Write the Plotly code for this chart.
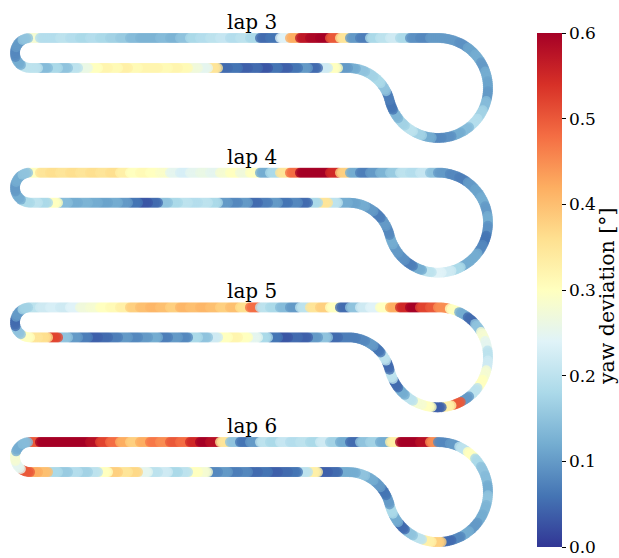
import math
import plotly.graph_objects as go

# ---------------- data: yaw deviation [deg] along the track, per lap ----------------
laps = ["lap 3", "lap 4", "lap 5", "lap 6"]

# top straight (left -> right)
top_lap3 = [0.28, 0.19, 0.19, 0.2, 0.19, 0.18, 0.19, 0.18, 0.17, 0.16, 0.14, 0.13, 0.13, 0.14,
            0.13, 0.15, 0.18, 0.19, 0.2, 0.21, 0.19, 0.2, 0.18, 0.05, 0.06, 0.24, 0.42, 0.57,
            0.59, 0.6, 0.5, 0.35, 0.1, 0.07, 0.18, 0.2, 0.22, 0.18, 0.09, 0.08, 0.1]
top_lap4 = [0.3, 0.35, 0.36, 0.35, 0.36, 0.35, 0.36, 0.35, 0.36, 0.33, 0.3, 0.31, 0.3, 0.29,
            0.25, 0.23, 0.25, 0.26, 0.25, 0.28, 0.3, 0.27, 0.3, 0.12, 0.18, 0.35, 0.48, 0.6,
            0.6, 0.6, 0.55, 0.38, 0.12, 0.07, 0.1, 0.13, 0.16, 0.2, 0.19, 0.21, 0.15]
top_lap5 = [0.2, 0.22, 0.23, 0.22, 0.24, 0.27, 0.28, 0.3, 0.31, 0.33, 0.38, 0.4, 0.41, 0.4,
            0.38, 0.41, 0.4, 0.41, 0.4, 0.38, 0.4, 0.36, 0.48, 0.2, 0.18, 0.14, 0.1, 0.2,
            0.35, 0.38, 0.3, 0.05, 0.15, 0.22, 0.24, 0.3, 0.42, 0.55, 0.6, 0.52, 0.5]
top_lap6 = [0.5, 0.6, 0.6, 0.6, 0.6, 0.6, 0.58, 0.52, 0.48, 0.42, 0.38, 0.42, 0.47, 0.45,
            0.5, 0.48, 0.55, 0.6, 0.58, 0.35, 0.15, 0.06, 0.1, 0.2, 0.18, 0.21, 0.19, 0.2,
            0.18, 0.22, 0.17, 0.12, 0.05, 0.15, 0.17, 0.12, 0.33, 0.6, 0.6, 0.58, 0.45]

# big loop (from top, clockwise)
loop_lap3 = [0.1, 0.1, 0.09, 0.11, 0.12, 0.1, 0.12, 0.11, 0.1, 0.14, 0.17, 0.19, 0.14, 0.12,
             0.09, 0.08, 0.12, 0.17, 0.2, 0.17, 0.13, 0.06]
loop_lap4 = [0.1, 0.08, 0.07, 0.1, 0.11, 0.12, 0.1, 0.12, 0.09, 0.06, 0.08, 0.12, 0.12, 0.18,
             0.22, 0.24, 0.2, 0.12, 0.07, 0.09, 0.1, 0.12]
loop_lap5 = [0.45, 0.3, 0.12, 0.05, 0.15, 0.28, 0.25, 0.2, 0.22, 0.28, 0.3, 0.2, 0.1, 0.5,
             0.33, 0.04, 0.3, 0.28, 0.2, 0.12, 0.05, 0.2]
loop_lap6 = [0.08, 0.1, 0.2, 0.3, 0.18, 0.15, 0.14, 0.12, 0.15, 0.13, 0.12, 0.1, 0.12, 0.08,
             0.05, 0.38, 0.33, 0.2, 0.15, 0.05, 0.12, 0.18]

# S-bend (loop -> bottom straight)
bend_lap3 = [0.07, 0.15, 0.18, 0.17, 0.15, 0.12]
bend_lap4 = [0.08, 0.1, 0.07, 0.1, 0.12, 0.11]
bend_lap5 = [0.05, 0.2, 0.06, 0.1, 0.08, 0.07]
bend_lap6 = [0.1, 0.06, 0.1, 0.12, 0.15, 0.12]

# bottom straight (right -> left)
bot_lap3 = [0.1, 0.3, 0.22, 0.05, 0.1, 0.06, 0.04, 0.06, 0.03, 0.05, 0.04, 0.06, 0.05, 0.35,
            0.25, 0.27, 0.31, 0.32, 0.31, 0.32, 0.32, 0.31, 0.33, 0.31, 0.32, 0.3, 0.26, 0.2,
            0.15, 0.18, 0.14, 0.2]
bot_lap4 = [0.12, 0.2, 0.35, 0.18, 0.05, 0.08, 0.06, 0.1, 0.07, 0.05, 0.1, 0.08, 0.1, 0.18,
            0.2, 0.19, 0.2, 0.18, 0.15, 0.05, 0.03, 0.06, 0.1, 0.12, 0.11, 0.12, 0.13, 0.12,
            0.14, 0.3, 0.18, 0.2]
bot_lap5 = [0.07, 0.05, 0.15, 0.1, 0.04, 0.05, 0.03, 0.06, 0.18, 0.25, 0.3, 0.32, 0.3, 0.22,
            0.15, 0.18, 0.08, 0.1, 0.07, 0.12, 0.1, 0.08, 0.1, 0.07, 0.05, 0.04, 0.07, 0.1,
            0.15, 0.52, 0.36, 0.35]
bot_lap6 = [0.12, 0.05, 0.04, 0.33, 0.2, 0.06, 0.05, 0.04, 0.06, 0.05, 0.08, 0.07, 0.1, 0.08,
            0.28, 0.3, 0.2, 0.18, 0.22, 0.2, 0.25, 0.37, 0.35, 0.38, 0.3, 0.2, 0.17, 0.19,
            0.16, 0.18, 0.4, 0.42]

# left hairpin (bottom -> top)
cap_lap3 = [0.2, 0.12, 0.08, 0.1, 0.15]
cap_lap4 = [0.18, 0.12, 0.1, 0.12, 0.15]
cap_lap5 = [0.3, 0.15, 0.05, 0.1, 0.17]
cap_lap6 = [0.5, 0.25, 0.28, 0.12, 0.14]

colorbar_ticks = [0.0, 0.1, 0.2, 0.3, 0.4, 0.5, 0.6]
colorbar_title = "yaw deviation [°]"

# ---------------- track geometry (drawing units) ----------------
X_LEFT, X_RIGHT = 30.0, 438.0
GAP = 30.0          # distance between the two straights
R_LOOP = 50.0
X_BEND = 348.0
FIRST_TOP = 38.0
LAP_STEP = 134.7
STEP = 2.0          # marker spacing along the path

# solve |C1-C2| = R_LOOP + r  with C1=(X_RIGHT, top+R_LOOP), C2=(X_BEND, top+GAP+r)
dx = X_RIGHT - X_BEND
a = GAP - R_LOOP
R_BEND = (dx ** 2 + a ** 2 - R_LOOP ** 2) / (2 * R_LOOP - 2 * a)


def segment_points(pts_fn, length, values):
    n = max(int(math.ceil(length / STEP)), 1)
    xs, ys, cs = [], [], []
    for i in range(n):
        t = i / n
        x, y = pts_fn(t)
        xs.append(x)
        ys.append(y)
        cs.append(values[min(int(t * len(values)), len(values) - 1)])
    return xs, ys, cs


def lap_track(top, top_v, loop_v, bend_v, bot_v, cap_v):
    xs, ys, cs = [], [], []
    c1 = (X_RIGHT, top + R_LOOP)
    c2 = (X_BEND, top + GAP + R_BEND)
    th_t = math.atan2(c2[1] - c1[1], c2[0] - c1[0])
    th0 = -math.pi / 2
    ph0 = th_t - math.pi
    ph1 = -math.pi / 2
    cap_c = (X_LEFT, top + GAP / 2)
    rc = GAP / 2
    parts = [
        (lambda t: (X_LEFT + t * (X_RIGHT - X_LEFT), top), X_RIGHT - X_LEFT, top_v),
        (lambda t: (c1[0] + R_LOOP * math.cos(th0 + t * (th_t - th0)),
                    c1[1] + R_LOOP * math.sin(th0 + t * (th_t - th0))), R_LOOP * (th_t - th0), loop_v),
        (lambda t: (c2[0] + R_BEND * math.cos(ph0 + t * (ph1 - ph0)),
                    c2[1] + R_BEND * math.sin(ph0 + t * (ph1 - ph0))), R_BEND * abs(ph1 - ph0), bend_v),
        (lambda t: (X_BEND - t * (X_BEND - X_LEFT), top + GAP), X_BEND - X_LEFT, bot_v),
        (lambda t: (cap_c[0] + rc * math.cos(math.pi / 2 + t * math.pi),
                    cap_c[1] + rc * math.sin(math.pi / 2 + t * math.pi)), rc * math.pi, cap_v),
    ]
    for fn, L, v in parts:
        x, y, c = segment_points(fn, L, v)
        xs += x
        ys += y
        cs += c
    return xs, ys, cs


lap_data = [
    (top_lap3, loop_lap3, bend_lap3, bot_lap3, cap_lap3),
    (top_lap4, loop_lap4, bend_lap4, bot_lap4, cap_lap4),
    (top_lap5, loop_lap5, bend_lap5, bot_lap5, cap_lap5),
    (top_lap6, loop_lap6, bend_lap6, bot_lap6, cap_lap6),
]

SERIF = "DejaVu Serif"
W, H = 619, 558
fig = go.Figure()
annotations = []
for k, (name, d) in enumerate(zip(laps, lap_data)):
    top = FIRST_TOP + k * LAP_STEP
    xs, ys, cs = lap_track(top, *d)
    fig.add_trace(go.Scatter(
        x=xs, y=ys, mode="markers", name=name, hoverinfo="skip",
        marker=dict(size=10, color=cs, colorscale="RdYlBu", reversescale=True,
                    cmin=0.0, cmax=0.6, opacity=0.8, line=dict(width=0),
                    showscale=(k == 0),
                    colorbar=dict(
                        x=537 / W, xanchor="left", xpad=0,
                        y=1 - 33 / H, yanchor="top", ypad=0,
                        len=514, lenmode="pixels", thickness=25,
                        outlinewidth=0,
                        tickvals=colorbar_ticks, ticktext=[f"{v:.1f}" for v in colorbar_ticks],
                        ticks="outside", ticklen=4, tickwidth=1, tickcolor="black",
                        tickfont=dict(family=SERIF, size=17, color="black"),
                    )),
        showlegend=False,
    ))
    annotations.append(dict(x=(X_LEFT + X_RIGHT) / 2 + 18, y=top - 16, text=name, showarrow=False,
                            xref="x", yref="y", font=dict(family=SERIF, size=20, color="black")))

# colorbar label (rotated, right of the tick labels)
annotations.append(dict(x=607 / W, y=1 - 296 / H, xref="paper", yref="paper", text=colorbar_title,
                        textangle=-90, showarrow=False, xanchor="center", yanchor="middle",
                        font=dict(family=SERIF, size=20.5, color="black")))

fig.update_layout(
    width=W, height=H,
    margin=dict(l=0, r=0, t=0, b=0, autoexpand=False),
    paper_bgcolor="white", plot_bgcolor="white",
    xaxis=dict(range=[0, W], visible=False, domain=[0, 1]),
    yaxis=dict(range=[H, 0], visible=False, domain=[0, 1]),
    annotations=annotations,
)
fig.write_html("out.html", config={"displayModeBar": False},
               post_script="document.body.style.margin='0';document.body.style.overflow='hidden';")
